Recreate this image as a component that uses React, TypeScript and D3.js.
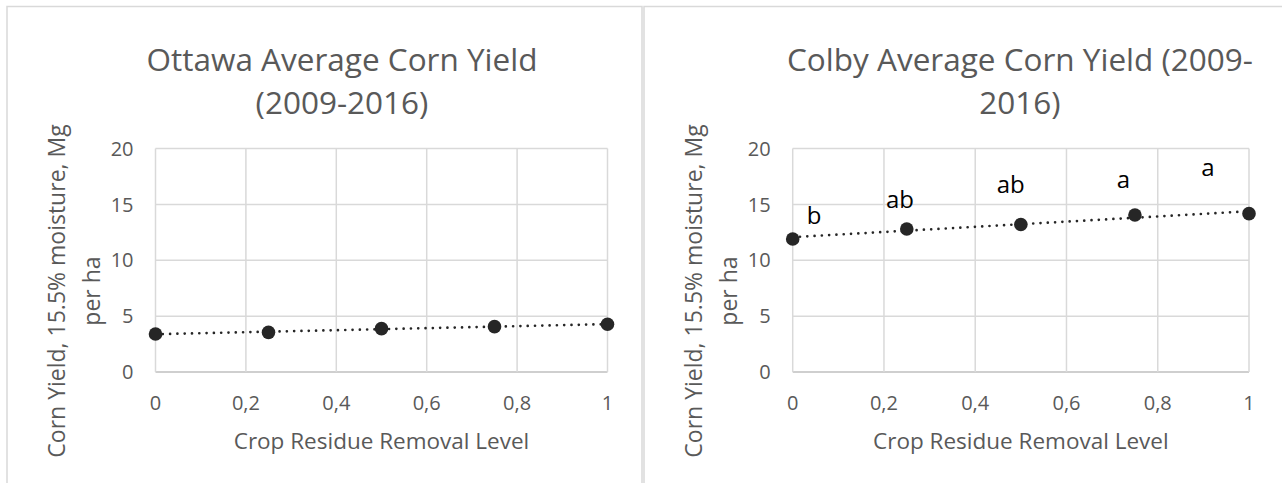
import { useEffect, useRef } from 'react';
import * as d3 from 'd3';

const WIDTH = 1282;
const HEIGHT = 483;

// niveles de remoción de residuo (eje x, compartido)
const removalLevels = [0, 0.25, 0.5, 0.75, 1];

const ottawaYield = [3.4, 3.55, 3.88, 4.06, 4.27];
const colbyYield = [11.9, 12.8, 13.2, 14.05, 14.17];

// letras de significancia de Colby, con su posición en unidades de datos
const colbyLetters = ['b', 'ab', 'ab', 'a', 'a'];
const colbyLetterX = [0.047, 0.235, 0.478, 0.725, 0.91];
const colbyLetterY = [13.25, 14.7, 16.0, 16.5, 17.55];

const yTicks = [0, 5, 10, 15, 20];
const xTicks = [0, 0.2, 0.4, 0.6, 0.8, 1];

const xAxisTitle = 'Crop Residue Removal Level';
const yAxisTitle = ['Corn Yield, 15.5% moisture, Mg', 'per ha'];

interface PanelSpec {
  title: string[];
  values: number[];
  letters?: string[];
  letterX?: number[];
  letterY?: number[];
  boxLeft: number;
  boxRight: number;
  plotLeft: number;
  plotRight: number;
  titleCx: number;
}

const TEXT = '#595959';
const GRID = '#d9d9d9';
const MARK = '#262626';
const FONT = '"Open Sans", sans-serif';

const PANELS: PanelSpec[] = [
  {
    title: ['Ottawa Average Corn Yield', '(2009-2016)'],
    values: ottawaYield,
    boxLeft: 7,
    boxRight: 642,
    plotLeft: 155.5,
    plotRight: 607.5,
    titleCx: 342,
  },
  {
    title: ['Colby Average Corn Yield (2009-', '2016)'],
    values: colbyYield,
    letters: colbyLetters,
    letterX: colbyLetterX,
    letterY: colbyLetterY,
    boxLeft: 644,
    boxRight: 1300,
    plotLeft: 792.7,
    plotRight: 1249,
    titleCx: 1020,
  },
];

// ajuste lineal por mínimos cuadrados (línea de tendencia tipo Excel)
function linearFit(xs: number[], ys: number[]) {
  const mx = d3.mean(xs)!;
  const my = d3.mean(ys)!;
  const num = d3.sum(xs, (x, i) => (x - mx) * (ys[i] - my));
  const den = d3.sum(xs, (x) => (x - mx) ** 2);
  const slope = num / den;
  return { slope, intercept: my - slope * mx };
}

export default function App() {
  const svgRef = useRef<SVGSVGElement>(null);

  useEffect(() => {
    if (!svgRef.current) return;
    const svg = d3.select(svgRef.current);
    svg.selectAll('*').remove();

    svg.append('rect').attr('width', WIDTH).attr('height', HEIGHT).attr('fill', '#fff');

    const plotTop = 148.5;
    const plotBottom = 372;

    PANELS.forEach((p) => {
      const g = svg.append('g');

      g.append('rect')
        .attr('x', p.boxLeft)
        .attr('y', 6.5)
        .attr('width', p.boxRight - p.boxLeft)
        .attr('height', HEIGHT + 20)
        .attr('fill', 'none')
        .attr('stroke', GRID)
        .attr('stroke-width', 1.5);

      const x = d3.scaleLinear().domain([0, 1]).range([p.plotLeft, p.plotRight]);
      const y = d3.scaleLinear().domain([0, 20]).range([plotBottom, plotTop]);

      // rejilla
      g.selectAll('line.hgrid')
        .data(yTicks)
        .join('line')
        .attr('x1', p.plotLeft)
        .attr('x2', p.plotRight)
        .attr('y1', (d) => y(d))
        .attr('y2', (d) => y(d))
        .attr('stroke', (d) => (d === 0 ? '#bfbfbf' : GRID))
        .attr('stroke-width', 1.5);

      g.selectAll('line.vgrid')
        .data(xTicks)
        .join('line')
        .attr('x1', (d) => x(d))
        .attr('x2', (d) => x(d))
        .attr('y1', plotTop)
        .attr('y2', plotBottom)
        .attr('stroke', GRID)
        .attr('stroke-width', 1.5);

      // etiquetas de ejes
      g.selectAll('text.ytick')
        .data(yTicks)
        .join('text')
        .attr('x', p.plotLeft - 22)
        .attr('y', (d) => y(d))
        .attr('dy', '0.36em')
        .attr('text-anchor', 'end')
        .attr('fill', TEXT)
        .style('font-family', FONT)
        .style('font-size', '20px')
        .text((d) => String(d));

      g.selectAll('text.xtick')
        .data(xTicks)
        .join('text')
        .attr('x', (d) => x(d))
        .attr('y', 410)
        .attr('text-anchor', 'middle')
        .attr('fill', TEXT)
        .style('font-family', FONT)
        .style('font-size', '20px')
        .text((d) => String(d).replace('.', ','));

      g.append('text')
        .attr('x', (p.plotLeft + p.plotRight) / 2)
        .attr('y', 449)
        .attr('text-anchor', 'middle')
        .attr('fill', TEXT)
        .style('font-family', FONT)
        .style('font-size', '22.5px')
        .text(xAxisTitle);

      const yt = g
        .append('text')
        .attr('transform', `translate(${p.plotLeft - 91},291) rotate(-90)`)
        .attr('text-anchor', 'middle')
        .attr('fill', TEXT)
        .style('font-family', FONT)
        .style('font-size', '23px');
      yAxisTitle.forEach((line, i) => {
        yt.append('tspan')
          .attr('x', 0)
          .attr('y', i * 35)
          .text(line);
      });

      p.title.forEach((line, i) => {
        g.append('text')
          .attr('x', p.titleCx)
          .attr('y', 71 + i * 43)
          .attr('text-anchor', 'middle')
          .attr('fill', TEXT)
          .style('font-family', FONT)
          .style('font-size', '31.5px')
          .text(line);
      });

      // tendencia lineal punteada
      const fit = linearFit(removalLevels, p.values);
      g.append('line')
        .attr('x1', x(0))
        .attr('y1', y(fit.intercept))
        .attr('x2', x(1))
        .attr('y2', y(fit.intercept + fit.slope))
        .attr('stroke', MARK)
        .attr('stroke-width', 2.7)
        .attr('stroke-linecap', 'round')
        .attr('stroke-dasharray', '0 7.3');

      g.selectAll('circle.pt')
        .data(p.values)
        .join('circle')
        .attr('cx', (_, i) => x(removalLevels[i]))
        .attr('cy', (d) => y(d))
        .attr('r', 6.8)
        .attr('fill', MARK);

      if (p.letters) {
        g.selectAll('text.letter')
          .data(p.letters)
          .join('text')
          .attr('x', (_, i) => x(p.letterX![i]))
          .attr('y', (_, i) => y(p.letterY![i]))
          .attr('text-anchor', 'middle')
          .attr('fill', '#000')
          .style('font-family', FONT)
          .style('font-size', '24px')
          .text((d) => d);
      }
    });
  }, []);

  return (
    <svg
      ref={svgRef}
      width={WIDTH}
      height={HEIGHT}
      style={{ position: 'absolute', left: 0, top: 0, display: 'block' }}
    />
  );
}
